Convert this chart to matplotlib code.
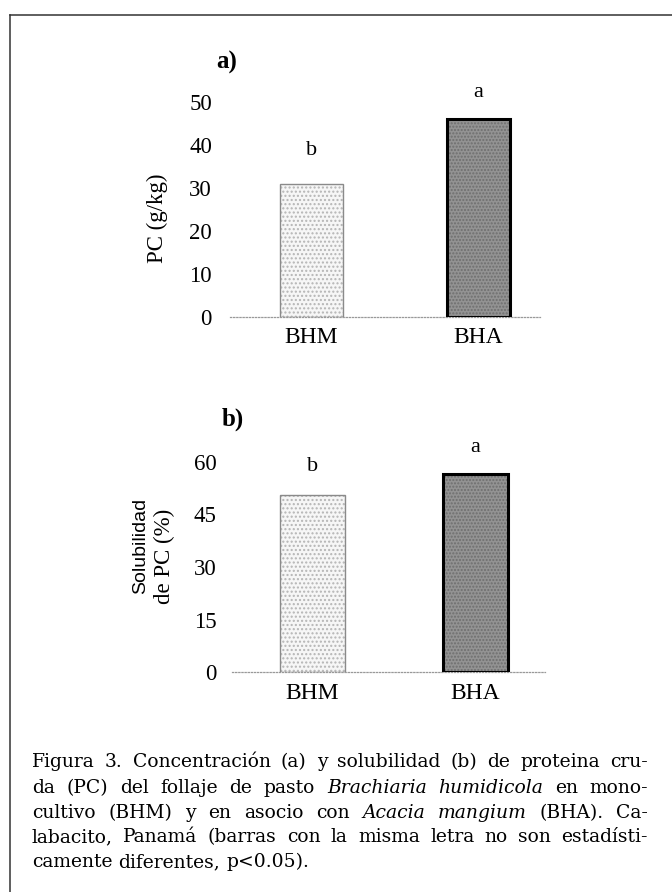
#Figura 3 - PC y solubilidad de PC, BHM vs BHA
import numpy as np
import matplotlib.pyplot as plt
from matplotlib.lines import Line2D

#Datos
categorias = ['BHM', 'BHA']
pc = [31, 46]
solubilidad = [50.5, 56.5]
letras_pc = ['b', 'a']
letras_sol = ['b', 'a']
ticks_pc = [0, 10, 20, 30, 40, 50]
ticks_sol = [0, 15, 30, 45, 60]

caption = [
    [('Figura', 'n'), ('3.', 'n'), ('Concentración', 'n'), ('(a)', 'n'), ('y', 'n'),
     ('solubilidad', 'n'), ('(b)', 'n'), ('de', 'n'), ('proteina', 'n'), ('cru-', 'n')],
    [('da', 'n'), ('(PC)', 'n'), ('del', 'n'), ('follaje', 'n'), ('de', 'n'), ('pasto', 'n'),
     ('Brachiaria', 'i'), ('humidicola', 'i'), ('en', 'n'), ('mono-', 'n')],
    [('cultivo', 'n'), ('(BHM)', 'n'), ('y', 'n'), ('en', 'n'), ('asocio', 'n'), ('con', 'n'),
     ('Acacia', 'i'), ('mangium', 'i'), ('(BHA).', 'n'), ('Ca-', 'n')],
    [('labacito,', 'n'), ('Panamá', 'n'), ('(barras', 'n'), ('con', 'n'), ('la', 'n'),
     ('misma', 'n'), ('letra', 'n'), ('no', 'n'), ('son', 'n'), ('estadísti-', 'n')],
    [('camente', 'n'), ('diferentes,', 'n'), ('p<0.05).', 'n')],
]

SERIF = 'Liberation Serif'
W, H = 672, 892

def fx(px):
    return px / W

def fy(py):
    return 1 - py / H

fig = plt.figure(figsize=(6.72, 8.92), dpi=100)

#Marco
fig.add_artist(Line2D([fx(10), fx(10)], [fy(15), 0], color='#333333', lw=1.1))
fig.add_artist(Line2D([fx(10), 1], [fy(15), fy(15)], color='#333333', lw=1.1))


def panel(ax, valores, letras, ticks, ancho, pad_y, pad_x, dy_letra):
    x = np.arange(len(categorias))
    #barra clara punteada
    ax.bar(x[0], valores[0], width=ancho, color='#f6f6f6', edgecolor='#b5b5b5',
           hatch='....', linewidth=0, zorder=2)
    ax.bar(x[0], valores[0], width=ancho, fill=False, edgecolor='#8a8a8a',
           linewidth=1.0, zorder=3)
    #barra oscura
    ax.bar(x[1], valores[1], width=ancho, color='#939393', edgecolor='#6e6e6e',
           hatch='.....', linewidth=0, zorder=2)
    ax.bar(x[1], valores[1], width=ancho, fill=False, edgecolor='black',
           linewidth=2.2, zorder=3)
    for xi, v, l in zip(x, valores, letras):
        ax.text(xi, v + dy_letra[xi], l, ha='center', va='center',
                fontsize=16, family=SERIF)
    ax.set_yticks(ticks)
    ax.set_yticklabels([str(t) for t in ticks], family=SERIF, fontsize=16.5)
    ax.set_xticks(x)
    ax.set_xticklabels(categorias, family=SERIF, fontsize=17)
    ax.tick_params(axis='y', length=0, pad=pad_y)
    ax.tick_params(axis='x', length=0, pad=pad_x)
    for s in ['left', 'right', 'top']:
        ax.spines[s].set_visible(False)
    ax.spines['bottom'].set_color('#999999')
    ax.spines['bottom'].set_linestyle((0, (1, 1.5)))
    ax.spines['bottom'].set_linewidth(0.9)
    ax.patch.set_alpha(0)


#a) PC
ax1 = fig.add_axes([fx(230), fy(317), fx(540) - fx(230), 55 * 4.3 / H])
panel(ax1, pc, letras_pc, ticks_pc, 0.38, 13, 7, [7.8, 6.3])
ax1.set_xlim(-0.488, 1.368)
ax1.set_ylim(0, 55)
fig.text(fx(227), fy(62), 'a)', family=SERIF, fontsize=18, fontweight='bold',
         ha='center', va='center')
fig.text(fx(157), fy(218), 'PC (g/kg)', family=SERIF, fontsize=16.5,
         rotation=90, ha='center', va='center')

#b) Solubilidad
ax2 = fig.add_axes([fx(232), fy(672), fx(545) - fx(232), 66 * 3.5 / H])
panel(ax2, solubilidad, letras_sol, ticks_sol, 0.40, 11, 8, [8.1, 7.5])
ax2.set_xlim(-0.494, 1.426)
ax2.set_ylim(0, 66)
fig.text(fx(233), fy(419), 'b)', family=SERIF, fontsize=18, fontweight='bold',
         ha='center', va='center')
fig.text(fx(141), fy(546), 'Solubilidad', family='Liberation Sans', fontsize=14,
         rotation=90, ha='center', va='center')
fig.text(fx(164), fy(556), 'de PC (%)', family=SERIF, fontsize=16.5,
         rotation=90, ha='center', va='center')

#Leyenda de la figura, justificada
x0, x1 = 32, 648
bases = [767, 793, 818, 842, 867]
renderer = fig.canvas.get_renderer()
for i, linea in enumerate(caption):
    objs = []
    for palabra, estilo in linea:
        t = fig.text(fx(x0), fy(bases[i]), palabra, family='DejaVu Serif', fontsize=13.5,
                     style='italic' if estilo == 'i' else 'normal', va='baseline')
        objs.append(t)
    anchos = [t.get_window_extent(renderer).width for t in objs]
    if i < len(caption) - 1:
        hueco = (x1 - x0 - sum(anchos)) / (len(objs) - 1)
    else:
        hueco = 6
    pos = x0
    for t, w in zip(objs, anchos):
        t.set_x(fx(pos))
        pos += w + hueco

plt.savefig('out.png', dpi=100)
